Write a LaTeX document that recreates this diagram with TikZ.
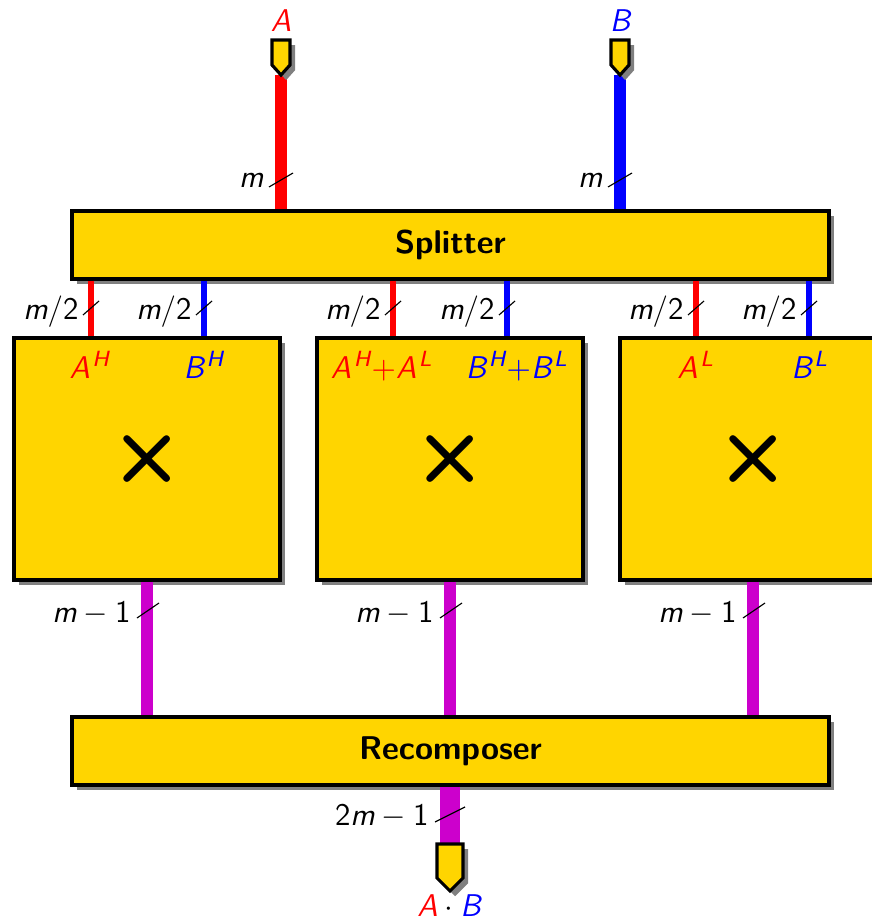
\documentclass[tikz,border=0pt]{standalone}
\usepackage{amstext}
\usetikzlibrary{shadows}
\definecolor{gold}{RGB}{255,213,0}
\definecolor{purp}{RGB}{204,0,204}
\newcommand\sv[1]{\text{\sffamily\itshape #1}}
\newcommand\su[1]{\text{\sffamily #1}}
\newcommand\supl[1]{^{\kern0.9pt\sv{#1}}}
\begin{document}
\begin{tikzpicture}[x=0.35pt,y=-0.35pt,
  font=\fontsize{11}{13}\selectfont\sffamily,
  shadowed/.style={drop shadow={shadow xshift=1.8pt, shadow yshift=-1.8pt, fill=black!50, opacity=1}},
  box/.style={draw=black, line width=1.1pt, fill=gold, shadowed, inner sep=0pt,
    font=\fontsize{11.5}{13}\selectfont\sffamily\bfseries},
  pin/.style={draw=black, line width=1.1pt, fill=gold, shadowed, line join=miter},
  wire/.style={line width=4.3pt},
  swire/.style={line width=2.1pt},
  owire/.style={line width=7pt, purp},
  slash/.style={line width=0.4pt, black},
  lab/.style={inner sep=0pt},
  mul/.style={inner sep=0pt, font=\fontsize{30}{30}\selectfont\sffamily\bfseries}
]
\useasboundingbox (0,0) rectangle (871,920);

% boxes
\node[box, minimum width=757*0.35pt, minimum height=68*0.35pt] (split) at (450.5,245) {Splitter};
\node[box, minimum width=266*0.35pt, minimum height=242*0.35pt] (m1) at (147,459) {};
\node[box, minimum width=266*0.35pt, minimum height=242*0.35pt] (m2) at (450,459) {};
\node[box, minimum width=266*0.35pt, minimum height=242*0.35pt] (m3) at (753,459) {};
\node[box, minimum width=757*0.35pt, minimum height=68*0.35pt] (rec) at (450.5,751) {Recomposer};

\node[mul] (x1) at (m1.center) {×};
\node[mul] (x2) at (m2.center) {×};
\node[mul] (x3) at (m3.center) {×};

% inputs
\coordinate (pa) at (281,75);
\coordinate (pb) at (620,75);
\draw[wire, red] (pa) -- (pa |- split.north);
\draw[wire, blue] (pb) -- (pb |- split.north);
\draw[pin] (272,40) -- (290,40) -- (290,65) -- (pa) -- (272,65) -- cycle;
\draw[pin] (611,40) -- (629,40) -- (629,65) -- (pb) -- (611,65) -- cycle;
\node[lab, text=red, anchor=base] (la) at (281,32) {$\sv{A}$};
\node[lab, text=blue, anchor=base] (lb) at (620,32) {$\sv{B}$};
\draw[slash] (269,187) -- (293,173);
\node[lab, anchor=base east] (ma) at (264,188) {$\sv{m}$};
\draw[slash] (608,187) -- (632,173);
\node[lab, anchor=base east] (mb) at (603,188) {$\sv{m}$};

% splitter outputs
\coordinate (w1) at (91,338);
\coordinate (w2) at (204,338);
\coordinate (w3) at (393,338);
\coordinate (w4) at (507,338);
\coordinate (w5) at (696,338);
\coordinate (w6) at (809,338);
\draw[swire, red]  (split.south -| w1) -- (w1 |- m1.north);
\draw[swire, blue] (split.south -| w2) -- (w2 |- m1.north);
\draw[swire, red]  (split.south -| w3) -- (w3 |- m2.north);
\draw[swire, blue] (split.south -| w4) -- (w4 |- m2.north);
\draw[swire, red]  (split.south -| w5) -- (w5 |- m3.north);
\draw[swire, blue] (split.south -| w6) -- (w6 |- m3.north);
\foreach \x/\n in {91/1,204/2,393/3,507/4,696/5,809/6}{
  \draw[slash] (\x-8,315) -- (\x+8,301);
  \node[lab, anchor=base east] (h\n) at (\x-12,320) {$\sv{m}\su{/2}$};
}

% box labels
\node[lab, text=red,  anchor=base] (ah) at (90,379) {$\sv{A}\supl{H}$};
\node[lab, text=blue, anchor=base] (bh) at (204,379) {$\sv{B}\supl{H}$};
\node[lab, text=red,  anchor=base] (ahl) at (382,379) {$\sv{A}\supl{H}{+}\sv{A}\supl{L}$};
\node[lab, text=blue, anchor=base] (bhl) at (517,379) {$\sv{B}\supl{H}{+}\sv{B}\supl{L}$};
\node[lab, text=red,  anchor=base] (al) at (696,379) {$\sv{A}\supl{L}$};
\node[lab, text=blue, anchor=base] (bl) at (810,379) {$\sv{B}\supl{L}$};

% products
\draw[wire, purp] (m1.south) -- (m1.south |- rec.north);
\draw[wire, purp] (m2.south) -- (m2.south |- rec.north);
\draw[wire, purp] (m3.south) -- (m3.south |- rec.north);
\foreach \x/\n in {147/1,450/2,753/3}{
  \draw[slash] (\x-10,618) -- (\x+12,603);
  \node[lab, anchor=base east] (p\n) at (\x-16,622) {$\sv{m}-\su{1}$};
}

% output
\coordinate (po) at (450,844);
\draw[owire] (rec.south -| po) -- (po);
\draw[pin] (437,844) -- (463,844) -- (463,878) -- (450,891) -- (437,878) -- cycle;
\draw[slash] (435,822) -- (465,807);
\node[lab, anchor=base east] (lo) at (429,825) {$\su{2}\sv{m}-\su{1}$};
\node[lab, anchor=base] (lab) at (449,916) {${\color{red}\sv{A}}\cdot{\color{blue}\sv{B}}$};
\end{tikzpicture}
\end{document}
